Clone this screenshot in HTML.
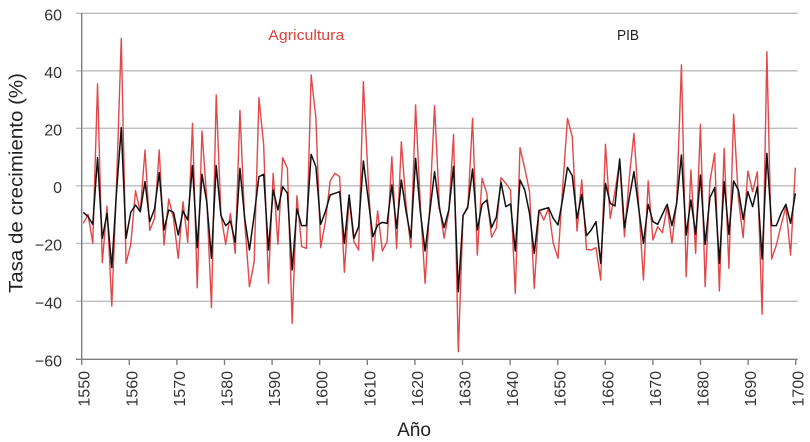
<!DOCTYPE html>
<html><head><meta charset="utf-8"><style>
html,body{margin:0;padding:0;background:#fff;}
svg{display:block;}
text{font-family:"Liberation Sans",sans-serif;}
</style></head><body>
<svg width="810" height="442" viewBox="0 0 810 442" xmlns="http://www.w3.org/2000/svg">
<g stroke="#bdbdbd" stroke-width="1.4">
<line x1="76" y1="13.3" x2="797.7" y2="13.3"/>
<line x1="76" y1="70.8" x2="797.7" y2="70.8"/>
<line x1="76" y1="128.3" x2="797.7" y2="128.3"/>
<line x1="76" y1="185.8" x2="797.7" y2="185.8"/>
<line x1="76" y1="243.4" x2="797.7" y2="243.4"/>
<line x1="76" y1="301.3" x2="797.7" y2="301.3"/>
</g>
<g stroke="#7f7f7f" stroke-width="1.4">
<line x1="81.7" y1="13" x2="81.7" y2="359.3"/>
<line x1="76" y1="359.3" x2="797.7" y2="359.3"/>
<line x1="81.7" y1="359.3" x2="81.7" y2="365"/>
<line x1="129.3" y1="359.3" x2="129.3" y2="365"/>
<line x1="176.9" y1="359.3" x2="176.9" y2="365"/>
<line x1="224.5" y1="359.3" x2="224.5" y2="365"/>
<line x1="272.1" y1="359.3" x2="272.1" y2="365"/>
<line x1="319.7" y1="359.3" x2="319.7" y2="365"/>
<line x1="367.3" y1="359.3" x2="367.3" y2="365"/>
<line x1="414.9" y1="359.3" x2="414.9" y2="365"/>
<line x1="462.5" y1="359.3" x2="462.5" y2="365"/>
<line x1="510.1" y1="359.3" x2="510.1" y2="365"/>
<line x1="557.7" y1="359.3" x2="557.7" y2="365"/>
<line x1="605.3" y1="359.3" x2="605.3" y2="365"/>
<line x1="652.9" y1="359.3" x2="652.9" y2="365"/>
<line x1="700.5" y1="359.3" x2="700.5" y2="365"/>
<line x1="748.1" y1="359.3" x2="748.1" y2="365"/>
<line x1="795.7" y1="359.3" x2="795.7" y2="365"/>
</g>
<g transform="translate(83.3,5) scale(4.747,0.333333)" fill="none" stroke-linejoin="round">
<polyline vector-effect="non-scaling-stroke" stroke="#e2474a" stroke-width="1.4" points="0,655 1,628 2,715 3,237 4,773 5,603 6,903 7,540 8,100 9,775 10,718 11,557 12,620 13,435 14,676 15,640 16,435 17,720 18,582 19,640 20,760 21,590 22,712 23,355 24,848 25,378 26,580 27,908 28,270 29,630 30,718 31,625 32,745 33,316 34,650 35,845 36,770 37,278 38,420 39,835 40,505 41,718 42,458 43,490 44,955 45,572 46,725 47,730 48,210 49,340 50,728 51,650 52,528 53,505 54,515 55,802 56,580 57,710 58,735 59,230 60,520 61,768 62,618 63,738 64,710 65,455 66,730 67,410 68,600 69,728 70,300 71,600 72,835 73,600 74,302 75,600 76,700 77,620 78,388 79,1040 80,630 81,610 82,340 83,750 84,520 85,565 86,697 87,670 88,518 89,535 90,555 91,865 92,428 93,490 94,560 95,850 96,615 97,645 98,610 99,715 100,760 101,545 102,340 103,395 104,678 105,525 106,733 107,735 108,728 109,825 110,418 111,640 112,560 113,470 114,695 115,520 116,385 117,600 118,825 119,528 120,705 121,665 122,683 123,605 124,715 125,590 126,180 127,815 128,495 129,745 130,358 131,845 132,530 133,445 134,858 135,430 136,790 137,328 138,580 139,698 140,498 141,560 142,500 143,928 144,140 145,762 146,720 147,660 148,605 149,750 150,488"/>
<polyline vector-effect="non-scaling-stroke" stroke="#111" stroke-width="1.5" points="0,622 1,635 2,658 3,458 4,700 5,625 6,788 7,560 8,368 9,700 10,622 11,600 12,620 13,530 14,650 15,612 16,503 17,675 18,615 19,622 20,690 21,618 22,645 23,482 24,728 25,508 26,590 27,760 28,482 29,632 30,662 31,648 32,712 33,490 34,640 35,735 36,630 37,515 38,508 39,735 40,555 41,615 42,545 43,565 44,795 45,612 46,662 47,662 48,448 49,485 50,658 51,620 52,570 53,565 54,560 55,715 56,570 57,700 58,665 59,468 60,580 61,695 62,660 63,652 64,655 65,540 66,670 67,525 68,620 69,698 70,460 71,620 72,738 73,620 74,500 75,610 76,668 77,615 78,484 79,860 80,632 81,605 82,492 83,675 84,598 85,585 86,668 87,637 88,532 89,605 90,597 91,738 92,525 93,555 94,625 95,745 96,617 97,612 98,608 99,640 100,660 101,580 102,487 103,512 104,640 105,568 106,692 107,675 108,650 109,775 110,535 111,595 112,603 113,462 114,668 115,580 116,500 117,610 118,715 119,598 120,650 121,658 122,628 123,598 124,662 125,595 126,450 127,690 128,585 129,688 130,510 131,718 132,578 133,548 134,775 135,530 136,688 137,528 138,555 139,643 140,560 141,605 142,545 143,762 144,445 145,662 146,662 147,625 148,598 149,655 150,565"/>
</g>
<g font-size="16" fill="#333" text-anchor="end">
<text x="62" y="20.6">60</text>
<text x="62" y="78.1">40</text>
<text x="62" y="135.6">20</text>
<text x="62" y="193.1">0</text>
<text x="62" y="250.7">−20</text>
<text x="62" y="308.6">−40</text>
<text x="62" y="366.6">−60</text>
</g>
<g font-size="16" fill="#333" text-anchor="end">
<text transform="translate(89.7,371) rotate(-90)">1550</text>
<text transform="translate(137.3,371) rotate(-90)">1560</text>
<text transform="translate(184.9,371) rotate(-90)">1570</text>
<text transform="translate(232.5,371) rotate(-90)">1580</text>
<text transform="translate(280.1,371) rotate(-90)">1590</text>
<text transform="translate(327.7,371) rotate(-90)">1600</text>
<text transform="translate(375.3,371) rotate(-90)">1610</text>
<text transform="translate(422.9,371) rotate(-90)">1620</text>
<text transform="translate(470.5,371) rotate(-90)">1630</text>
<text transform="translate(518.1,371) rotate(-90)">1640</text>
<text transform="translate(565.7,371) rotate(-90)">1650</text>
<text transform="translate(613.3,371) rotate(-90)">1660</text>
<text transform="translate(660.9,371) rotate(-90)">1670</text>
<text transform="translate(708.5,371) rotate(-90)">1680</text>
<text transform="translate(756.1,371) rotate(-90)">1690</text>
<text transform="translate(803.7,371) rotate(-90)">1700</text>
</g>
<text x="268.3" y="40" font-size="15" fill="#e0403a" textLength="76" lengthAdjust="spacingAndGlyphs">Agricultura</text>
<text x="617" y="40" font-size="15" fill="#222" textLength="22" lengthAdjust="spacingAndGlyphs">PIB</text>
<text x="414" y="436" font-size="19" fill="#222" text-anchor="middle">Año</text>
<text transform="translate(22.5,183) rotate(-90)" font-size="19" fill="#222" text-anchor="middle" textLength="220" lengthAdjust="spacingAndGlyphs">Tasa de crecimiento (%)</text>
</svg>
</body></html>
